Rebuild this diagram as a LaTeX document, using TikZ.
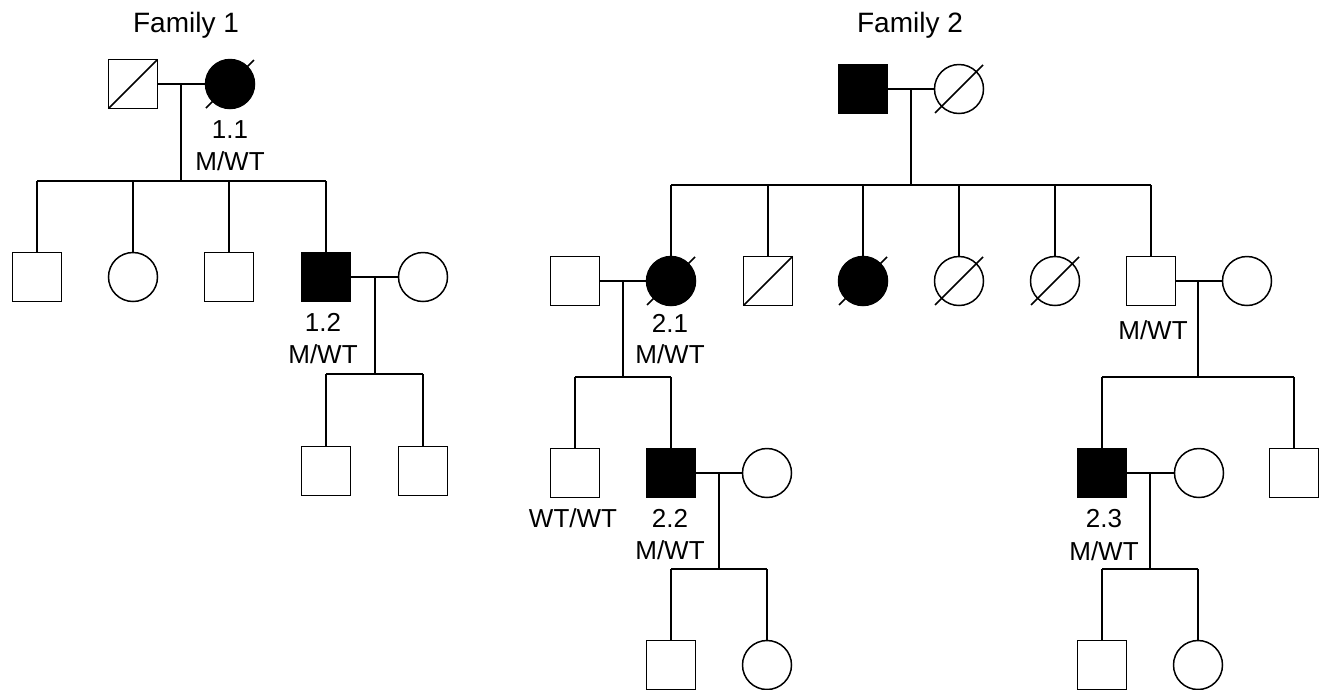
\documentclass[tikz,border=0pt]{standalone}
\usepackage{fontspec}
\setmainfont{Liberation Sans}
\begin{document}
\begin{tikzpicture}[x=1pt,y=-1pt,
 ind/.style={draw, line width=1.5pt, minimum size=49pt, inner sep=0pt, outer sep=0pt},
 sq/.style={ind, rectangle},
 ci/.style={ind, circle},
 aff/.style={fill=black},
 ln/.style={line width=1.5pt},
 lbl/.style={font=\fontsize{26}{30}\selectfont, inner sep=0pt, anchor=base},
 ttl/.style={font=\fontsize{28}{32}\selectfont, inner sep=0pt, anchor=base}]
\useasboundingbox (0,0) rectangle (1320,689);
\newcommand{\sqslash}[1]{\draw[ln] (#1.south west) -- (#1.north east);}
\newcommand{\cislash}[1]{\draw[ln] ([shift={(-24,24)}]#1.center) -- ([shift={(24,-24)}]#1.center);}

% ---------------- Family 1 ----------------
\node[ttl] (t1) at (186,32) {Family 1};
\node[sq] (f1) at (133,84) {};
\node[ci,aff] (m1) at (230,84) {};
\sqslash{f1}
\cislash{m1}
\draw[ln] (f1.east) -- (m1.west);
\coordinate (d1) at (181,84);
\coordinate (s1) at (181,181);
\draw[ln] (d1) -- (s1);
\node[lbl] (l11a) at (230,138) {1.1};
\node[lbl] (l11b) at (230,170) {M/WT};

\node[sq] (c11) at (37,277) {};
\node[ci] (c12) at (133,277) {};
\node[sq] (c13) at (229,277) {};
\node[sq,aff] (c14) at (326,277) {};
\node[ci] (w14) at (423,277) {};
\draw[ln] (c11.north |- s1) -- (c14.north |- s1);
\foreach \c in {c11,c12,c13,c14} \draw[ln] (\c.north |- s1) -- (\c.north);
\draw[ln] (c14.east) -- (w14.west);
\node[lbl] (l12a) at (323,331) {1.2};
\node[lbl] (l12b) at (323,363) {M/WT};
\coordinate (d14) at (375,277);
\coordinate (s14) at (375,374);
\draw[ln] (d14) -- (s14);
\node[sq] (g141) at (326,471) {};
\node[sq] (g142) at (423,471) {};
\draw[ln] (g141.north |- s14) -- (g142.north |- s14);
\foreach \c in {g141,g142} \draw[ln] (\c.north |- s14) -- (\c.north);

% ---------------- Family 2 ----------------
\node[ttl] (t2) at (910,32) {Family 2};
\node[sq,aff] (f2) at (863,89) {};
\node[ci] (m2) at (959,89) {};
\cislash{m2}
\draw[ln] (f2.east) -- (m2.west);
\coordinate (d2) at (911,89);
\coordinate (s2) at (911,185);
\draw[ln] (d2) -- (s2);

\node[sq] (h21) at (575,281) {};
\node[ci,aff] (c21) at (671,281) {};
\node[sq] (c22) at (768,281) {};
\node[ci,aff] (c23) at (863,281) {};
\node[ci] (c24) at (959,281) {};
\node[ci] (c25) at (1055,281) {};
\node[sq] (c26) at (1151,281) {};
\node[ci] (w26) at (1247,281) {};
\cislash{c21}
\sqslash{c22}
\cislash{c23}
\cislash{c24}
\cislash{c25}
\draw[ln] (c21.north |- s2) -- (c26.north |- s2);
\foreach \c in {c21,c22,c23,c24,c25,c26} \draw[ln] (\c.north |- s2) -- (\c.north);

% couple 2.1
\draw[ln] (h21.east) -- (c21.west);
\node[lbl] (l21a) at (670,332) {2.1};
\node[lbl] (l21b) at (670,363) {M/WT};
\coordinate (d21) at (623,281);
\coordinate (s21) at (623,377);
\draw[ln] (d21) -- (s21);
\node[sq] (g211) at (575,473) {};
\node[sq,aff] (g212) at (671,473) {};
\node[ci] (w212) at (767,473) {};
\draw[ln] (g211.north |- s21) -- (g212.north |- s21);
\foreach \c in {g211,g212} \draw[ln] (\c.north |- s21) -- (\c.north);
\node[lbl] (lww) at (573,527) {WT/WT};
\node[lbl] (l22a) at (670,527) {2.2};
\node[lbl] (l22b) at (670,559) {M/WT};
\draw[ln] (g212.east) -- (w212.west);
\coordinate (d212) at (719,473);
\coordinate (s212) at (719,569);
\draw[ln] (d212) -- (s212);
\node[sq] (gg1) at (671,665) {};
\node[ci] (gg2) at (767,665) {};
\draw[ln] (gg1.north |- s212) -- (gg2.north |- s212);
\foreach \c in {gg1,gg2} \draw[ln] (\c.north |- s212) -- (\c.north);

% right couple
\draw[ln] (c26.east) -- (w26.west);
\node[lbl] (l26) at (1153,339) {M/WT};
\coordinate (d26) at (1198,281);
\coordinate (s26) at (1198,377);
\draw[ln] (d26) -- (s26);
\node[sq,aff] (g261) at (1102,473) {};
\node[ci] (w261) at (1199,473) {};
\node[sq] (g262) at (1294,473) {};
\draw[ln] (g261.north |- s26) -- (g262.north |- s26);
\foreach \c in {g261,g262} \draw[ln] (\c.north |- s26) -- (\c.north);
\node[lbl] (l23a) at (1104,527) {2.3};
\node[lbl] (l23b) at (1104,560) {M/WT};
\draw[ln] (g261.east) -- (w261.west);
\coordinate (d261) at (1150,473);
\coordinate (s261) at (1150,569);
\draw[ln] (d261) -- (s261);
\node[sq] (gg3) at (1102,665) {};
\node[ci] (gg4) at (1198,665) {};
\draw[ln] (gg3.north |- s261) -- (gg4.north |- s261);
\foreach \c in {gg3,gg4} \draw[ln] (\c.north |- s261) -- (\c.north);
\end{tikzpicture}
\end{document}
